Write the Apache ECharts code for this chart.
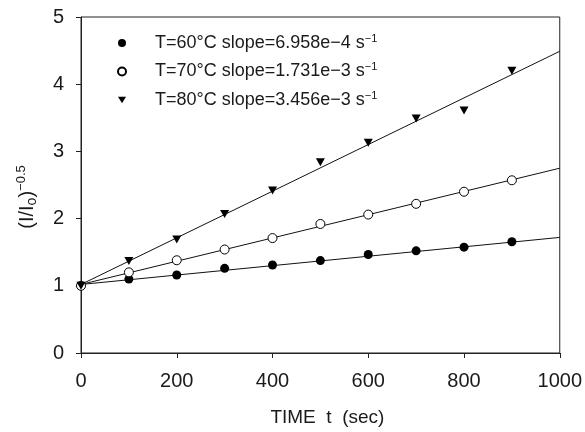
<!DOCTYPE html>
<html>
<head>
<meta charset="utf-8">
<script src="https://cdn.jsdelivr.net/npm/echarts@6/dist/echarts.min.js"></script>
<style>html,body{margin:0;padding:0;background:#fff;}#c{width:585px;height:432px;}</style>
</head>
<body>
<div id="c"></div>
<script>
var times = [0, 100, 200, 300, 400, 500, 600, 700, 800, 900];
var t60 = [1.0, 1.10, 1.16, 1.26, 1.31, 1.375, 1.465, 1.52, 1.575, 1.655];
var t70 = [1.0, 1.20, 1.38, 1.54, 1.71, 1.92, 2.06, 2.22, 2.40, 2.57];
var t80 = [1.0, 1.37, 1.69, 2.07, 2.42, 2.84, 3.13, 3.49, 3.61, 4.20];
var fitT = [0, 1000];
var fit60 = [1.02, 1.72];
var fit70 = [1.02, 2.75];
var fit80 = [1.02, 4.49];
var seriesNames = ['T=60°C slope=6.958e−4 s', 'T=70°C slope=1.731e−3 s', 'T=80°C slope=3.456e−3 s'];
var xTicks = [0, 200, 400, 600, 800, 1000];
var yTicks = [0, 1, 2, 3, 4, 5];

function pairs(xs, ys) { return xs.map(function (x, i) { return [x, ys[i]]; }); }

var FONT = 'Liberation Sans, Arial, Helvetica, sans-serif';
var TXT = '#1a1a1a';
var tri = 'path://M0,0L10,0L5,8Z';

var chart = echarts.init(document.getElementById('c'), null, {renderer: 'canvas'});
function fitLine(ys) {
  return {type: 'line', data: pairs(fitT, ys), symbol: 'none', silent: true,
    lineStyle: {color: '#111', width: 1}, z: 2, legendHoverLink: false};
}
chart.setOption({
  animation: false,
  textStyle: {fontFamily: FONT},
  grid: {left: 81, right: 25, top: 17, bottom: 79, show: true, borderColor: '#222', borderWidth: 1, backgroundColor: 'transparent'},
  legend: {
    orient: 'vertical', left: 112, top: 28, itemGap: 9.5,
    itemWidth: 8, itemHeight: 8,
    data: seriesNames,
    formatter: function (n) { return '{t|' + n + '}{s|−1}'; },
    textStyle: {
      padding: [0, 0, 0, 24],
      rich: {
        t: {fontSize: 18, color: TXT, fontFamily: FONT, lineHeight: 20},
        s: {fontSize: 11, color: TXT, fontFamily: FONT, verticalAlign: 'top', lineHeight: 12}
      }
    }
  },
  xAxis: {
    type: 'value', min: 0, max: 1000, interval: 200,
    name: 'TIME  t  (sec)', nameLocation: 'middle', nameGap: 55,
    nameTextStyle: {fontSize: 19, color: TXT, fontFamily: FONT, padding: [0, 0, 0, 14]},
    axisLine: {show: true, lineStyle: {color: '#222', width: 1}},
    axisTick: {show: true, inside: false, length: 5, lineStyle: {color: '#222'}},
    axisLabel: {fontSize: 20, color: TXT, margin: 18, fontFamily: FONT,
      formatter: function (v) { return xTicks.indexOf(v) >= 0 ? String(v) : ''; }},
    splitLine: {show: false}
  },
  yAxis: {
    type: 'value', min: 0, max: 5, interval: 1,
    name: '{a|(I/I}{b|o}{a|)}{c|−0.5}', nameLocation: 'middle', nameGap: 42, nameRotate: 90,
    nameTextStyle: {
      padding: [0, 24, 0, 0],
      rich: {
        a: {fontSize: 20, color: TXT, fontFamily: FONT, lineHeight: 24},
        b: {fontSize: 14, color: TXT, fontFamily: FONT, verticalAlign: 'bottom', lineHeight: 14},
        c: {fontSize: 13, color: TXT, fontFamily: FONT, verticalAlign: 'top', lineHeight: 12}
      }
    },
    axisLine: {show: true, lineStyle: {color: '#222', width: 1}},
    axisTick: {show: true, inside: false, length: 5, lineStyle: {color: '#222'}},
    axisLabel: {fontSize: 20, color: TXT, margin: 17, fontFamily: FONT,
      formatter: function (v) { return yTicks.indexOf(v) >= 0 ? String(v) : ''; }},
    splitLine: {show: false}
  },
  series: [
    fitLine(fit60), fitLine(fit70), fitLine(fit80),
    {name: seriesNames[0], type: 'scatter', data: pairs(times, t60), symbol: 'circle', symbolSize: 9,
      itemStyle: {color: '#000', borderColor: '#000', borderWidth: 0, opacity: 1}, z: 3},
    {name: seriesNames[1], type: 'scatter', data: pairs(times, t70), symbol: 'circle', symbolSize: 9,
      itemStyle: {color: '#fff', borderColor: '#000', borderWidth: 1, opacity: 1}, z: 3},
    {name: seriesNames[2], type: 'scatter', data: pairs(times, t80), symbol: tri, symbolSize: [9, 8],
      itemStyle: {color: '#000', borderColor: '#000', borderWidth: 0, opacity: 1}, z: 3}
  ]
});
</script>
</body>
</html>
